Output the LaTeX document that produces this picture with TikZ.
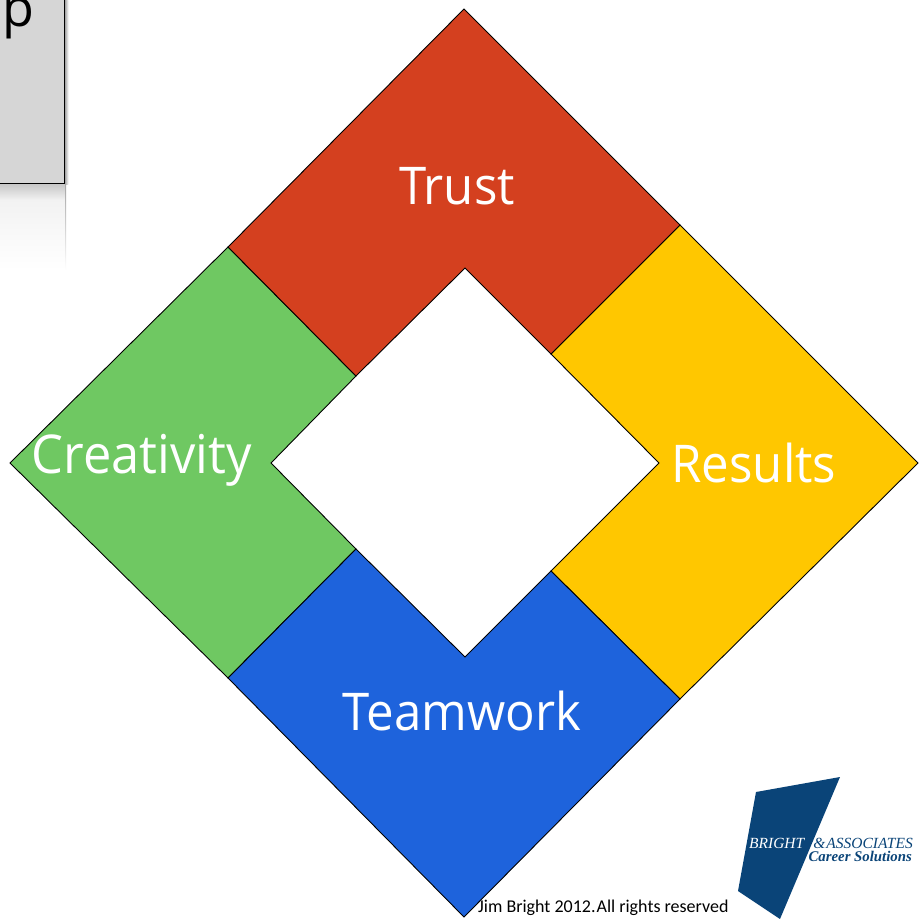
\documentclass[tikz,border=0pt]{standalone}
\usepackage{fontspec}
\setmainfont{Open Sans}
\newfontfamily\bigfont[FakeStretch=0.945]{Open Sans}
\newfontfamily\footfont{Carlito}
\newfontfamily\logofont{Liberation Serif}
\definecolor{trustc}{RGB}{212,64,31}
\definecolor{resultc}{RGB}{255,199,0}
\definecolor{teamc}{RGB}{30,99,220}
\definecolor{creatc}{RGB}{111,200,98}
\definecolor{logoc}{RGB}{10,68,120}
\definecolor{panelc}{RGB}{214,214,214}
\tikzset{
  sector/.style={draw=black,line width=0.9pt,line join=miter},
  biglabel/.style={text=white,inner sep=0pt,font=\bigfont\fontsize{52}{52}\selectfont},
  logotext/.style={inner sep=0pt,font=\logofont\bfseries\itshape\fontsize{14.8}{15}\selectfont,text=logoc},
  logotop/.style={inner sep=0pt,font=\logofont\itshape\fontsize{15.5}{16}\selectfont,text=logoc}
}
\begin{document}
\begin{tikzpicture}[x=1pt,y=-1pt]
\useasboundingbox (0,0) rectangle (922,919);
\fill[white] (0,0) rectangle (922,919);
% panel reflection and shadow
\shade[top color=black!22,bottom color=black!5] (0,184) rectangle (65,200);
\shade[top color=black!5,bottom color=white] (0,200) rectangle (65,270);
\shade[top color=black!35,bottom color=white] (65,184) rectangle (66,270);
\shade[left color=black!35,right color=white] (65,0) rectangle (68.5,184);
\draw[draw=black,fill=panelc,line width=0.9pt] (-5,-5) rectangle (64.5,183);
\node[anchor=base west,inner sep=0pt,font=\fontsize{52}{52}\selectfont,text=black] (ptext) at (2,26) {p};
% diamond sectors
\coordinate (T) at (464,9);
\coordinate (R) at (918,463);
\coordinate (B) at (464,917);
\coordinate (L) at (10,463);
\coordinate (iT) at (465,268);
\coordinate (iR) at (659,463);
\coordinate (iB) at (465,657);
\coordinate (iL) at (271,463);
\coordinate (a) at (228,247);
\coordinate (ai) at (356,376);
\coordinate (b) at (680,225);
\coordinate (bi) at (551,354);
\coordinate (c) at (680,699);
\coordinate (ci) at (551,571);
\coordinate (d) at (228,678);
\coordinate (di) at (356,549);
\draw[sector,fill=creatc] (a) -- (ai) -- (iL) -- (di) -- (d) -- (L) -- cycle;
\draw[sector,fill=resultc] (b) -- (R) -- (c) -- (ci) -- (iR) -- (bi) -- cycle;
\draw[sector,fill=trustc] (T) -- (b) -- (bi) -- (iT) -- (ai) -- (a) -- cycle;
\draw[sector,fill=teamc] (di) -- (iB) -- (ci) -- (c) -- (B) -- (d) -- cycle;
\node[biglabel,anchor=base] (trust) at (457,204) {Trust};
\node[biglabel,anchor=base] (results) at (754,482) {Results};
\node[biglabel,anchor=base,font=\bigfont\fontsize{53.5}{54}\selectfont] (creativity) at (142,473) {Creativity};
\node[biglabel,anchor=base] (teamwork) at (462,730) {Teamwork};
% logo
\fill[logoc] (756,792) -- (840,777) -- (780,919) -- (738,891) -- cycle;
\node[logotop,anchor=base west,text=white] (bright) at (749,848) {BRIGHT};
\node[logotop,anchor=base east] (assoc) at (913,848) {\&\kern1pt ASSOCIATES};
\node[logotext,anchor=base east] (career) at (912,861) {Career Solutions};
\node[anchor=base west,inner sep=0pt,font=\footfont\fontsize{18}{18}\selectfont,text=black] (foot) at (478,912) {Jim Bright 2012.\kern1pt All rights reserved};
\end{tikzpicture}
\end{document}
